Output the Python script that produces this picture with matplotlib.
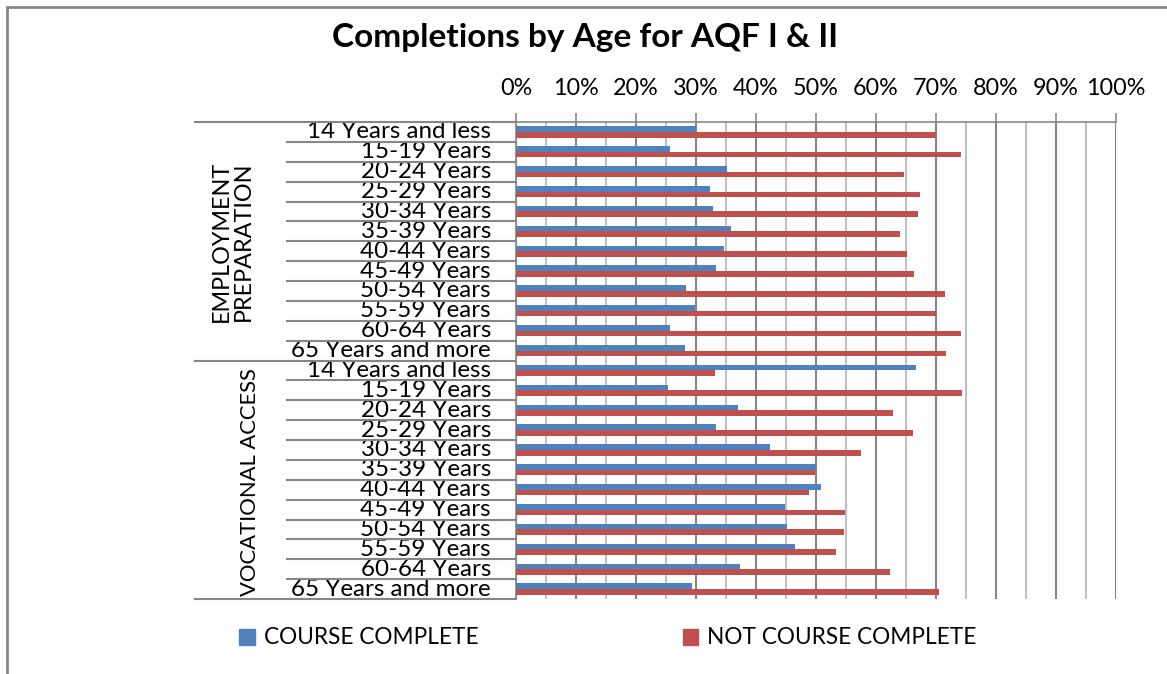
import matplotlib.pyplot as plt
from matplotlib.patches import Patch, Rectangle
from matplotlib.lines import Line2D
import numpy as np

plt.rcParams['font.family'] = ['Lato', 'DejaVu Sans']

# data (percent of enrolments)
age_groups = ["14 Years and less", "15-19 Years", "20-24 Years", "25-29 Years",
              "30-34 Years", "35-39 Years", "40-44 Years", "45-49 Years",
              "50-54 Years", "55-59 Years", "60-64 Years", "65 Years and more"]
programs = ["EMPLOYMENT\nPREPARATION", "VOCATIONAL ACCESS"]

emp_complete = [30.0, 25.6, 35.1, 32.4, 32.8, 35.8, 34.7, 33.4, 28.4, 29.9, 25.6, 28.2]
emp_not_complete = [70.0, 74.2, 64.7, 67.3, 67.0, 64.0, 65.2, 66.3, 71.5, 70.0, 74.2, 71.6]
voc_complete = [66.6, 25.4, 37.0, 33.4, 42.3, 50.0, 50.9, 44.8, 45.1, 46.5, 37.4, 29.3]
voc_not_complete = [33.2, 74.4, 62.8, 66.2, 57.5, 49.8, 48.8, 54.9, 54.7, 53.3, 62.3, 70.5]

blue = '#4F81BD'
red = '#C0504D'
grid_major = '#868686'
grid_minor = '#C0C0C0'

complete = emp_complete + voc_complete
not_complete = emp_not_complete + voc_not_complete
labels = age_groups + age_groups
n = len(labels)
pos = np.arange(n) + 0.5

W, H = 1167, 674
fig = plt.figure(figsize=(W / 100, H / 100), dpi=100)
ax = fig.add_axes([516 / W, 1 - 599 / H, 600 / W, 477 / H])

bh = 0.28
ax.barh(pos - bh / 2, complete, height=bh, color=blue, zorder=3)
ax.barh(pos + bh / 2, not_complete, height=bh, color=red, zorder=3)

ax.set_xlim(0, 100)
ax.set_ylim(n, 0)

# grid
ax.set_xticks(np.arange(0, 101, 10))
ax.set_xticks(np.arange(5, 100, 10), minor=True)
ax.set_xticklabels([f"{v}%" for v in range(0, 101, 10)])
ax.xaxis.tick_top()
ax.grid(axis='x', which='major', color=grid_major, linewidth=1.5, zorder=0)
ax.grid(axis='x', which='minor', color=grid_minor, linewidth=1.5, zorder=0)
ax.tick_params(axis='x', which='major', length=6.5, width=1.2, color=grid_major,
               labelsize=16.8, pad=10)
ax.tick_params(axis='x', which='minor', length=0)

ax.set_yticks(pos)
ax.set_yticklabels(labels, fontsize=17.4)
ax.tick_params(axis='y', length=0, pad=18)
for lbl in ax.get_yticklabels():
    lbl.set_verticalalignment('center')

for s in ['right', 'bottom']:
    ax.spines[s].set_visible(False)
ax.spines['left'].set_color(grid_major)
ax.spines['top'].set_color(grid_major)
ax.spines['left'].set_linewidth(1.2)
ax.spines['top'].set_linewidth(1.2)

# category separators
tr = ax.get_yaxis_transform()
sub_x = (287 - 516) / 600
grp_x = (195 - 516) / 600
for b in range(n + 1):
    x0 = grp_x if b % 12 == 0 else sub_x
    ax.add_line(Line2D([x0, 0], [b, b], transform=tr, color=grid_major,
                       linewidth=1.5, clip_on=False))

ax.text((232 - 516) / 600, 6, programs[0], transform=tr, rotation=90,
        ha='center', va='center', multialignment='center', fontsize=16.8,
        linespacing=1.05)
ax.text((250 - 516) / 600, 18.1, programs[1], transform=tr, rotation=90,
        ha='center', va='center', fontsize=15.8)

fig.text(585 / W, 1 - 37 / H, "Completions by Age for AQF I & II",
         ha='center', va='center', fontsize=24, fontweight='bold')

handles = [Patch(color=blue, label='COURSE COMPLETE'),
           Patch(color=red, label='NOT COURSE COMPLETE')]
fig.legend(handles=handles, loc='center', bbox_to_anchor=(608 / W, 1 - 638 / H),
           ncol=2, frameon=False, fontsize=16.3, handlelength=0.7,
           handleheight=0.7, handletextpad=0.4, columnspacing=9)

# outer chart frame
fig.patches.append(Rectangle((7 / W, -0.1), 1.2, 1 - 7 / H + 0.1,
                             transform=fig.transFigure, fill=False,
                             edgecolor=grid_major, linewidth=2))

fig.savefig('out.png', dpi=100, facecolor='white')
